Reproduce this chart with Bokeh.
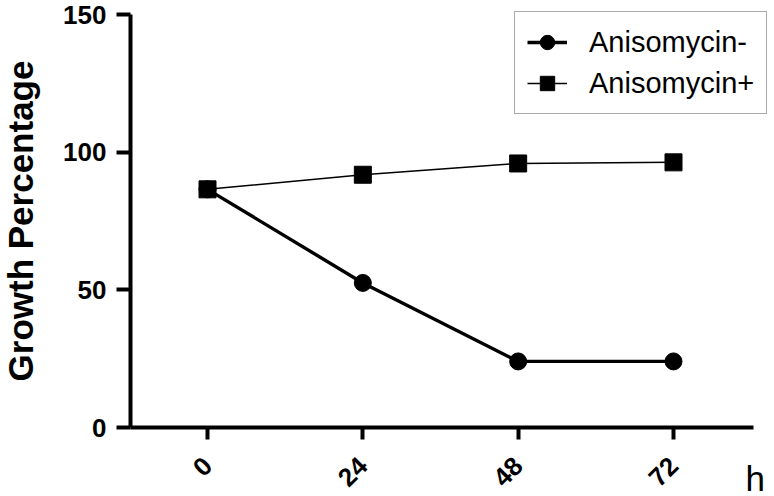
from bokeh.plotting import figure
from bokeh.models import Range1d, FixedTicker, Legend, LegendItem, Label
from bokeh.embed import file_html
from bokeh.resources import INLINE
import math

hours = [0, 24, 48, 72]
tick_labels = ["0", "24", "48", "72"]
aniso_minus = [86.5, 52.5, 24.0, 24.0]
aniso_plus = [86.5, 91.8, 95.9, 96.3]

FONT = "Liberation Sans"
W, H = 774, 496

# pixel geometry of the reference (canvas coords)
X0_PX, XPX_PER = 207.0, (673.0 - 207.0) / 72.0
Y0_PX, YPX_PER = 427.0, (427.0 - 14.0) / 150.0
x_start = -X0_PX / XPX_PER
x_end = (W - X0_PX) / XPX_PER
y_start = -(H - Y0_PX) / YPX_PER
y_end = Y0_PX / YPX_PER
yaxis_x = (130.0 - X0_PX) / XPX_PER
xaxis_end = (753.0 - X0_PX) / XPX_PER

p = figure(width=W, height=H, output_backend="svg", toolbar_location=None,
           x_range=Range1d(x_start, x_end), y_range=Range1d(y_start, y_end),
           min_border_left=0, min_border_top=0, min_border_bottom=0, min_border_right=0)
p.outline_line_color = None
p.grid.visible = False
p.background_fill_color = "white"
p.border_fill_color = "white"

r1 = p.line(hours, aniso_minus, line_color="black", line_width=3.4)
m1 = p.scatter(hours, aniso_minus, marker="circle", size=17, fill_color="black", line_color="black")
r2 = p.line(hours, aniso_plus, line_color="black", line_width=1.5)
m2 = p.scatter(hours, aniso_plus, marker="square", size=17, fill_color="black", line_color="black")

# y axis
yax = p.yaxis[0]
yax.fixed_location = yaxis_x
yax.bounds = (0, 150)
yax.ticker = FixedTicker(ticks=[0, 50, 100, 150])
yax.axis_line_width = 4
yax.major_tick_line_width = 4
yax.major_tick_out = 14
yax.major_tick_in = 0
yax.minor_tick_line_color = None
yax.major_label_text_font = FONT
yax.major_label_text_font_style = "bold"
yax.major_label_text_font_size = "26px"
yax.major_label_text_color = "black"
yax.major_label_standoff = 10
yax.axis_label = "Growth Percentage"
yax.axis_label_text_font = FONT
yax.axis_label_text_font_style = "bold"
yax.axis_label_text_font_size = "35px"
yax.axis_label_text_color = "black"
yax.axis_label_standoff = 20

# x axis
xax = p.xaxis[0]
xax.fixed_location = 0
xax.bounds = (yaxis_x, xaxis_end)
xax.ticker = FixedTicker(ticks=hours)
xax.major_label_overrides = {h: t for h, t in zip(hours, tick_labels)}
xax.axis_line_width = 4
xax.major_tick_line_width = 4
xax.major_tick_out = 12
xax.major_tick_in = 0
xax.minor_tick_line_color = None
xax.major_label_orientation = math.pi / 4
xax.major_label_text_font = FONT
xax.major_label_text_font_style = "bold"
xax.major_label_text_font_size = "26px"
xax.major_label_text_color = "black"
xax.major_label_standoff = 22

h_label = Label(x=745, y=H - 478, x_units="screen", y_units="screen", text="h",
                text_font=FONT, text_font_size="35px", text_color="black",
                text_baseline="alphabetic")
p.add_layout(h_label)

legend = Legend(items=[LegendItem(label="Anisomycin-", renderers=[r1, m1]),
                       LegendItem(label="Anisomycin+", renderers=[r2, m2])],
                location=(514, H - 114))
legend.border_line_color = "#555555"
legend.border_line_width = 1.5
legend.label_text_font = FONT
legend.label_text_font_size = "29px"
legend.label_text_color = "black"
legend.glyph_width = 40
legend.glyph_height = 36
legend.label_height = 36
legend.spacing = 5
legend.padding = 12
legend.margin = 0
legend.label_standoff = 22
legend.background_fill_alpha = 1
p.add_layout(legend)

open("out.html", "w").write(file_html(p, INLINE))
